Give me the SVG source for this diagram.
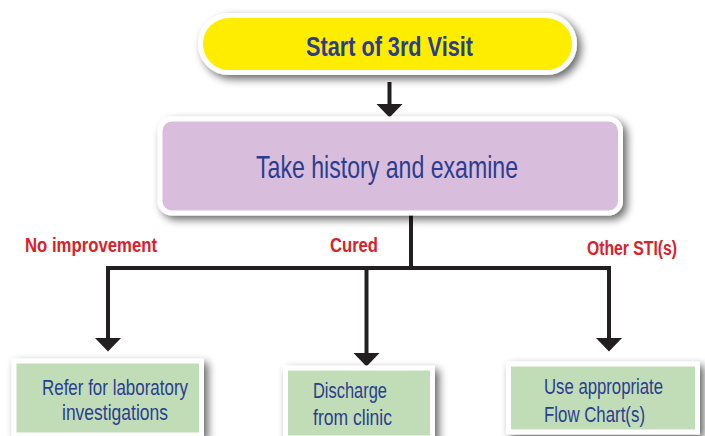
<svg xmlns="http://www.w3.org/2000/svg" width="705" height="436" viewBox="0 0 705 436">
<defs>
<filter id="sh" x="-10%" y="-20%" width="125%" height="150%">
<feGaussianBlur in="SourceAlpha" stdDeviation="4"/>
<feOffset dx="4" dy="4" result="b"/>
<feComponentTransfer><feFuncA type="linear" slope="0.6"/></feComponentTransfer>
<feMerge><feMergeNode/><feMergeNode in="SourceGraphic"/></feMerge>
</filter>
<marker id="ah" viewBox="0 0 14 27" markerWidth="14" markerHeight="27" refX="0.5" refY="13.5" orient="auto" markerUnits="userSpaceOnUse">
<path d="M0,0 L14,13.5 L0,27 Z" fill="#231F20"/>
</marker>
</defs>
<style>
.box{stroke:#FFFFFF;stroke-width:5;filter:url(#sh)}
.t{font-family:"Liberation Sans Narrow","Liberation Sans",Arial,sans-serif;fill:#2B3D8F}
.lbl{font-family:"Liberation Sans Narrow","Liberation Sans",Arial,sans-serif;font-weight:bold;fill:#D7222A;font-size:20px}
.ln{stroke:#231F20;stroke-width:4;fill:none}
</style>
<g id="connectors">
<line class="ln" x1="389.5" y1="82" x2="389.5" y2="104" marker-end="url(#ah)"/>
<line class="ln" x1="411" y1="214" x2="411" y2="268"/>
<line class="ln" x1="106" y1="268" x2="611" y2="268"/>
<line class="ln" x1="108" y1="266" x2="108" y2="338" marker-end="url(#ah)"/>
<line class="ln" x1="366.5" y1="268" x2="366.5" y2="353" marker-end="url(#ah)"/>
<line class="ln" x1="609" y1="266" x2="609" y2="338" marker-end="url(#ah)"/>
</g>
<g id="labels">
<text class="lbl" x="25" y="252" textLength="132" lengthAdjust="spacingAndGlyphs">No improvement</text>
<text class="lbl" x="330" y="252" textLength="48" lengthAdjust="spacingAndGlyphs">Cured</text>
<text class="lbl" x="587" y="255" textLength="90" lengthAdjust="spacingAndGlyphs">Other STI(s)</text>
</g>
<g id="start">
<rect class="box" x="200.5" y="15.5" width="374" height="57" rx="28.5" fill="#FFED00"/>
<text class="t" x="306" y="56" font-size="27.5" font-weight="bold" textLength="167" lengthAdjust="spacingAndGlyphs">Start of 3rd Visit</text>
</g>
<g id="history">
<rect class="box" x="160" y="119" width="460.5" height="94" rx="12" fill="#D8BEDC" stroke-width="6"/>
<text class="t" x="256" y="178" font-size="30.5" textLength="262" lengthAdjust="spacingAndGlyphs">Take history and examine</text>
</g>
<g id="refer">
<rect class="box" x="14" y="361" width="187.5" height="74" fill="#C1DDB7"/>
<text class="t" x="42" y="395" font-size="21.5" textLength="146" lengthAdjust="spacingAndGlyphs">Refer for laboratory</text>
<text class="t" x="62" y="420" font-size="21.5" textLength="106" lengthAdjust="spacingAndGlyphs">investigations</text>
</g>
<g id="discharge">
<rect class="box" x="285.5" y="368" width="147" height="70" fill="#C1DDB7"/>
<text class="t" x="313" y="398" font-size="21.5" textLength="74" lengthAdjust="spacingAndGlyphs">Discharge</text>
<text class="t" x="313" y="425" font-size="21.5" textLength="79" lengthAdjust="spacingAndGlyphs">from clinic</text>
</g>
<g id="flowchart">
<rect class="box" x="508.5" y="364" width="189" height="68" fill="#C1DDB7"/>
<text class="t" x="544" y="394" font-size="21.5" textLength="119" lengthAdjust="spacingAndGlyphs">Use appropriate</text>
<text class="t" x="544" y="422" font-size="21.5" textLength="101" lengthAdjust="spacingAndGlyphs">Flow Chart(s)</text>
</g>
</svg>
